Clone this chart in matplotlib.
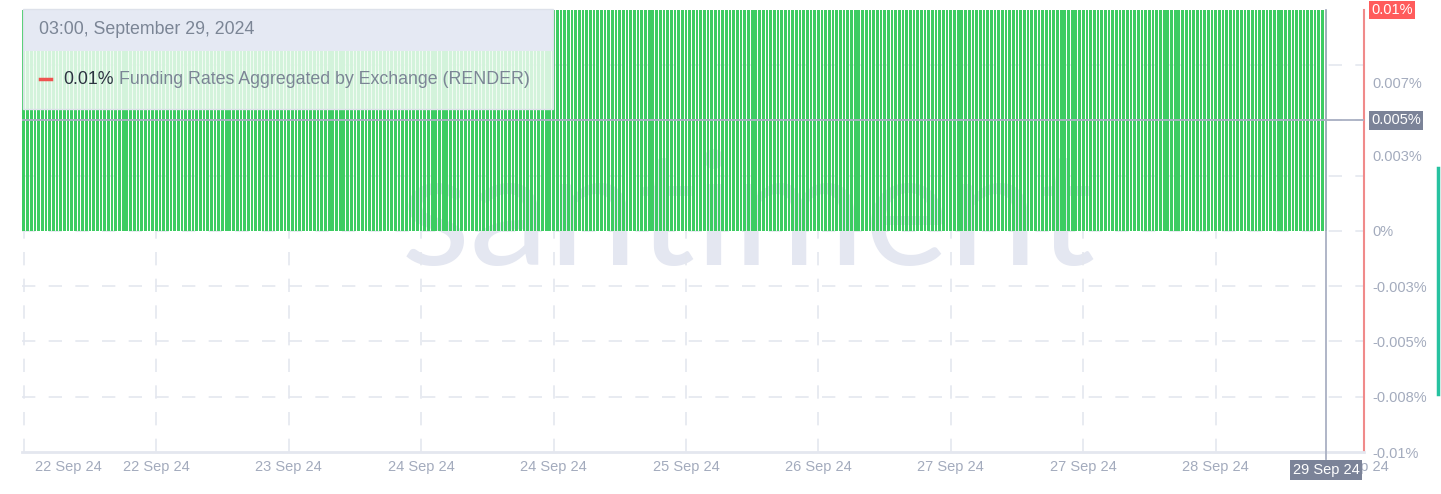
import pandas as pd
import matplotlib.pyplot as plt
from matplotlib.patches import Rectangle
from matplotlib.lines import Line2D

# Funding rate bars (every bar reads 0.01%)
bar_times = pd.date_range('2024-09-21 18:00', '2024-09-29 03:00', freq='30min')
funding_rate = [0.01] * len(bar_times)

tick_times = pd.to_datetime(['2024-09-22 00:00', '2024-09-22 12:00', '2024-09-23 06:00',
                             '2024-09-24 00:00', '2024-09-24 18:00', '2024-09-25 12:00',
                             '2024-09-26 06:00', '2024-09-27 00:00', '2024-09-27 18:00',
                             '2024-09-28 12:00', '2024-09-29 07:00'])
tick_labels = ['22 Sep 24', '22 Sep 24', '23 Sep 24', '24 Sep 24', '24 Sep 24', '25 Sep 24',
               '26 Sep 24', '27 Sep 24', '27 Sep 24', '28 Sep 24', '29 Sep 24']

ytick_values = [0.0067, 0.0034, 0, -0.0025, -0.005, -0.0075, -0.01]
ytick_labels = ['0.007%', '0.003%', '0%', '-0.003%', '-0.005%', '-0.008%', '-0.01%']
ygrid_values = [0.0075, 0.005, 0.0025, 0, -0.0025, -0.005, -0.0075]

hover_time = pd.Timestamp('2024-09-29 03:00')
hover_value = 0.005
last_value = 0.01

W, H = 1441, 494
plt.rcParams['font.family'] = ['Liberation Sans', 'DejaVu Sans']

fig = plt.figure(figsize=(W / 100, H / 100), dpi=100)
ax = fig.add_axes([22 / W, (H - 452) / H, (1364 - 22) / W, (452 - 10) / H])

def fx(px):
    return px / W

def fy(py):
    return 1 - py / H

# watermark
ax.text(0.541, 0.525, 'santiment', transform=ax.transAxes, fontsize=115, color='#e4e7f1',
        family='Lato', ha='center', va='center', zorder=0)

# grid
for v in ygrid_values:
    ax.axhline(v, color='#e4e7ef', lw=1.2, dashes=(8, 8), zorder=1)
for t in tick_times[1:10]:
    ax.axvline(t, color='#e4e7ef', lw=1.2, dashes=(8, 8), zorder=1)
ax.axvline(pd.Timestamp('2024-09-21 18:00'), color='#e4e7ef', lw=1.2, dashes=(8, 8), zorder=1)

ax.bar(bar_times, funding_rate, width=0.74 / 48, color='#3dcc62', align='center', zorder=2)

x_left = pd.Timestamp('2024-09-21 17:45')
x_right = pd.Timestamp('2024-09-29 08:10')
ax.set_xlim(x_left, x_right)
ax.set_ylim(-0.01, 0.01)

ax.set_xticks(tick_times)
ax.set_xticklabels(tick_labels)
ax.yaxis.tick_right()
ax.set_yticks(ytick_values)
ax.set_yticklabels(ytick_labels)
ax.tick_params(axis='both', length=0, labelsize=10.5, colors='#a3abbd')
ax.tick_params(axis='x', pad=6)
ax.tick_params(axis='y', pad=6)
for lab in ax.get_yticklabels():
    lab.set_horizontalalignment('left')

for s in ['top', 'left']:
    ax.spines[s].set_visible(False)
ax.spines['bottom'].set_color('#e4e7ef')
ax.spines['bottom'].set_linewidth(2)
ax.spines['right'].set_color('#f08a8a')
ax.spines['right'].set_linewidth(1.5)

# crosshair
ax.axhline(hover_value, color='#a9b0c3', lw=1.3, zorder=4)
ax.plot([hover_time, hover_time], [-0.0103, 0.01], color='#a9b0c3', lw=1.3,
        zorder=4, clip_on=False)

ax.annotate('0.005%', xy=(1, hover_value), xycoords=('axes fraction', 'data'),
            xytext=(5, 0), textcoords='offset points', ha='left', va='center',
            fontsize=10.5, color='white', zorder=6,
            bbox=dict(boxstyle='square,pad=0.15', fc='#7b8398', ec='none'))
ax.annotate('0.01%', xy=(1, last_value), xycoords=('axes fraction', 'data'),
            xytext=(5, 0), textcoords='offset points', ha='left', va='center',
            fontsize=10.5, color='white', zorder=6,
            bbox=dict(boxstyle='square,pad=0.15', fc='#ff5c5c', ec='none'))
ax.annotate('29 Sep 24', xy=(hover_time, 0), xycoords=('data', 'axes fraction'),
            xytext=(0, -13), textcoords='offset points', ha='center', va='center',
            fontsize=10.5, color='white', zorder=6, annotation_clip=False,
            bbox=dict(boxstyle='square,pad=0.2', fc='#7b8398', ec='none'))

# tooltip
fig.add_artist(Rectangle((fx(23), fy(51)), fx(553 - 23), 42 / H, transform=fig.transFigure,
                         fc='#e5e9f3', ec='none', zorder=10))
fig.add_artist(Rectangle((fx(23), fy(109)), fx(553 - 23), 58 / H, transform=fig.transFigure,
                         fc='#effbf1', ec='none', alpha=0.85, zorder=10))
fig.add_artist(Rectangle((fx(23), fy(109)), fx(553 - 23), 100 / H, transform=fig.transFigure,
                         fc='none', ec='#dde1ea', lw=1, zorder=11))
fig.text(fx(39), fy(30), '03:00, September 29, 2024', fontsize=12.8, color='#7b8595',
         va='center', ha='left', zorder=12)
fig.add_artist(Line2D([fx(40), fx(51)], [fy(79), fy(79)], color='#ef5350', lw=2.5, zorder=12))
fig.text(fx(63), fy(79), '0.01%', fontsize=12.8, color='#2c3341', va='center', ha='left', zorder=12)
fig.text(fx(119), fy(79), 'Funding Rates Aggregated by Exchange (RENDER)', fontsize=12.8,
         color='#7b8595', va='center', ha='left', zorder=12)

# side bar
fig.add_artist(Line2D([fx(1438), fx(1438)], [fy(168), fy(394)], color='#26c2a0', lw=2.5, zorder=12))

fig.savefig('out.png', dpi=100)
